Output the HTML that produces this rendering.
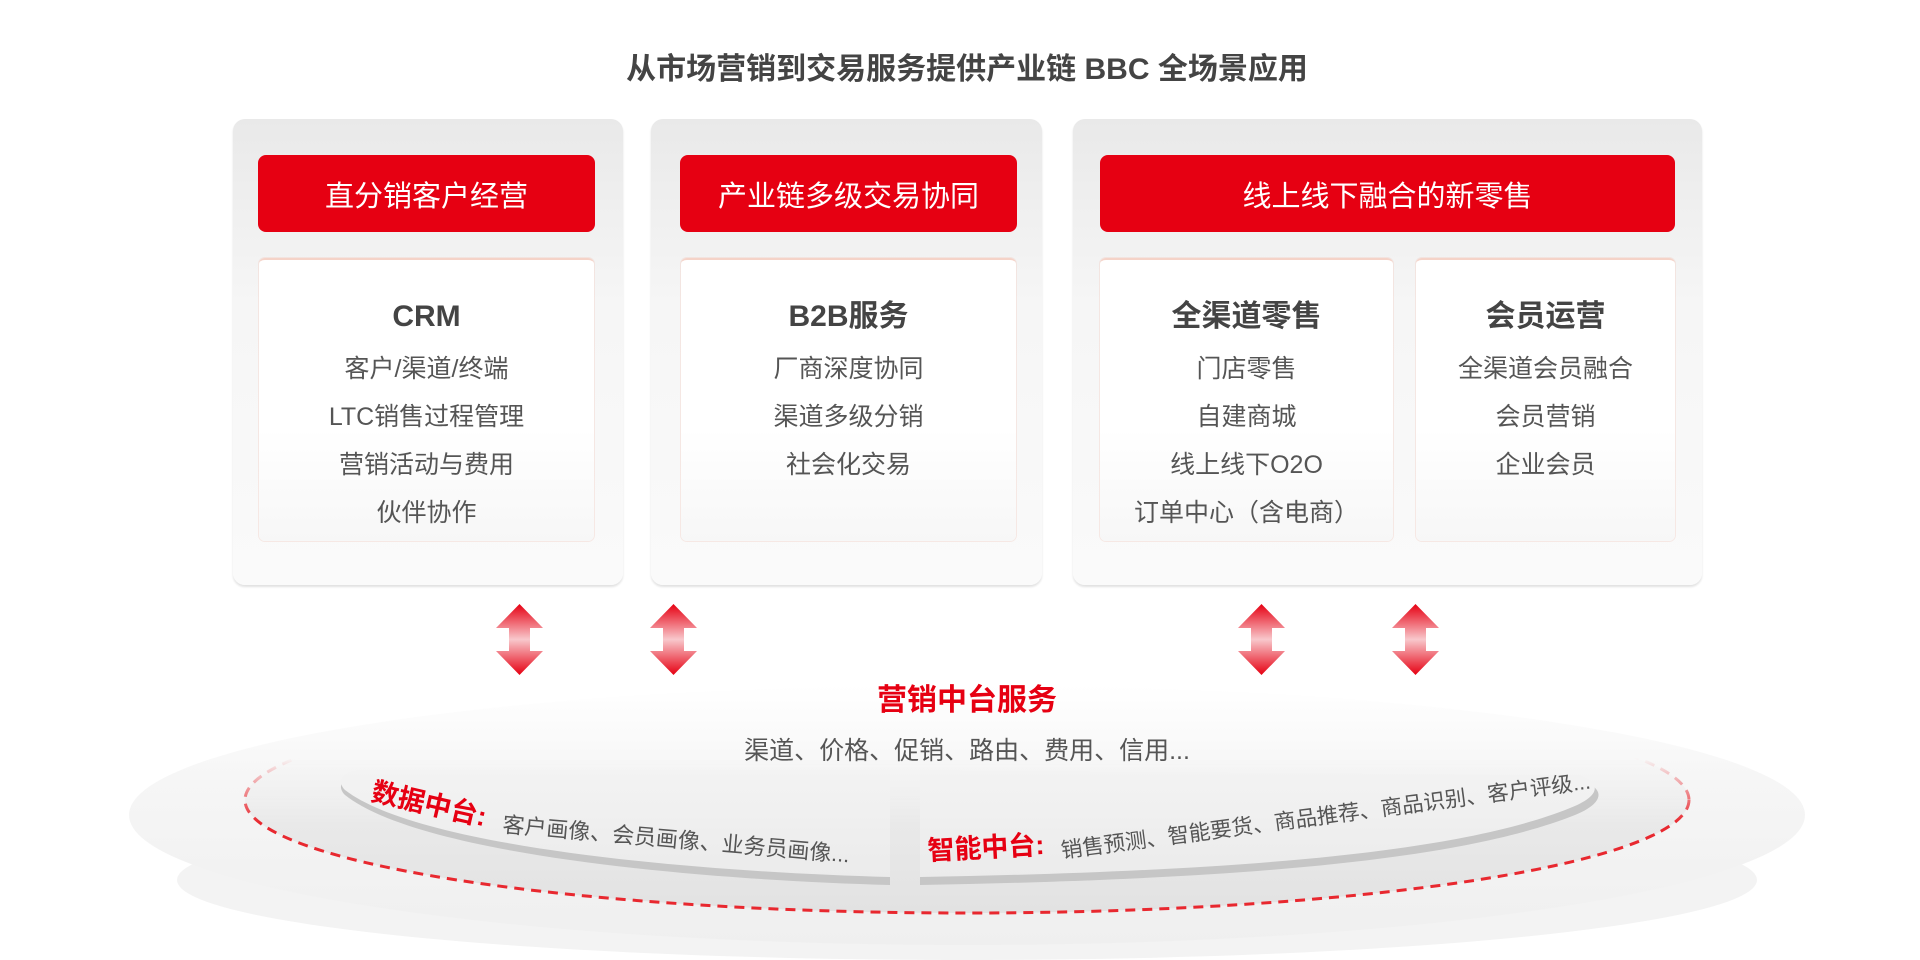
<!DOCTYPE html>
<html><head><meta charset="utf-8"><style>
html,body{margin:0;padding:0;background:#fff;}
body{width:1920px;height:960px;overflow:hidden;position:relative;font-family:"Liberation Sans","Noto Sans CJK SC",sans-serif;}
.t{position:absolute;white-space:nowrap;}
.panel{position:absolute;top:119px;height:466px;border-radius:12px;background:linear-gradient(#e9e9e9,#f6f6f6 40%,#fafafa);box-shadow:0 2px 2px rgba(0,0,0,.12);}
.red{position:absolute;top:155px;height:77px;border-radius:8px;background:#e60012;color:#fff;font-size:29px;display:flex;align-items:center;justify-content:center;}
.box{position:absolute;top:258px;height:281px;border-radius:6px;background:linear-gradient(#fff,#fff 60%,#f7f7f7);border-top:2px solid #f5d3c8;box-shadow:0 0 0 1px rgba(240,200,190,.35);text-align:center;color:#555;}
.box b{display:block;font-size:30px;line-height:36px;height:36px;color:#444;margin-top:39px;margin-bottom:10px;}
.box div{font-size:25px;line-height:48px;height:48px;}
</style></head><body>
<div class="t" style="left:0;width:1934px;text-align:center;top:44px;font-size:30px;font-weight:bold;color:#444;">从市场营销到交易服务提供产业链 BBC 全场景应用</div>

<div class="panel" style="left:233px;width:390px;"></div>
<div class="panel" style="left:651px;width:391px;"></div>
<div class="panel" style="left:1073px;width:629px;"></div>

<div class="red" style="left:258px;width:337px;">直分销客户经营</div>
<div class="red" style="left:680px;width:337px;">产业链多级交易协同</div>
<div class="red" style="left:1100px;width:575px;">线上线下融合的新零售</div>

<div class="box" style="left:259px;width:335px;"><b>CRM</b><div>客户/渠道/终端</div><div>LTC销售过程管理</div><div>营销活动与费用</div><div>伙伴协作</div></div>
<div class="box" style="left:681px;width:335px;"><b>B2B服务</b><div>厂商深度协同</div><div>渠道多级分销</div><div>社会化交易</div></div>
<div class="box" style="left:1100px;width:293px;"><b>全渠道零售</b><div>门店零售</div><div>自建商城</div><div>线上线下O2O</div><div>订单中心（含电商）</div></div>
<div class="box" style="left:1416px;width:259px;"><b>会员运营</b><div>全渠道会员融合</div><div>会员营销</div><div>企业会员</div></div>

<svg width="1920" height="960" style="position:absolute;left:0;top:0;pointer-events:none;">
<defs>
<linearGradient id="ag" x1="0" y1="0" x2="0" y2="1">
<stop offset="0" stop-color="#e60012"/><stop offset=".5" stop-color="#f8c8cc"/><stop offset="1" stop-color="#e60012"/></linearGradient>
<linearGradient id="eg" x1="0" y1="0" x2="0" y2="1"><stop offset="0" stop-color="#ffffff"/><stop offset=".35" stop-color="#f6f6f6"/><stop offset="1" stop-color="#efefef"/></linearGradient>
<linearGradient id="ig" x1="0" y1="0" x2="0" y2="1"><stop offset="0" stop-color="#f4f4f4"/><stop offset="1" stop-color="#e2e2e2"/></linearGradient>
<linearGradient id="pg" x1="0" y1="0" x2="0" y2="1"><stop offset="0" stop-color="#f3f3f3"/><stop offset="1" stop-color="#ebebeb"/></linearGradient>
<linearGradient id="mg" x1="0" y1="0" x2="0" y2="1"><stop offset="0" stop-color="#000"/><stop offset=".3" stop-color="#000"/><stop offset=".55" stop-color="#fff"/><stop offset="1" stop-color="#fff"/></linearGradient>
<mask id="mk" maskUnits="userSpaceOnUse" x="0" y="680" width="1920" height="260"><rect x="0" y="680" width="1920" height="260" fill="url(#mg)"/></mask>
<symbol id="arr" viewBox="0 0 47 71"><path d="M23.5 0 L47 24 L34 24 L34 47 L47 47 L23.5 71 L0 47 L13 47 L13 24 L0 24 Z" fill="url(#ag)"/></symbol>
</defs>
<use href="#arr" x="496" y="604" width="47" height="71"/>
<use href="#arr" x="650" y="604" width="47" height="71"/>
<use href="#arr" x="1238" y="604" width="47" height="71"/>
<use href="#arr" x="1392" y="604" width="47" height="71"/>

<ellipse cx="967" cy="880" rx="790" ry="80" fill="#f3f3f3"/>
<ellipse cx="967" cy="815" rx="838" ry="130" fill="url(#eg)"/>
<g mask="url(#mk)">
<ellipse cx="967" cy="800" rx="722" ry="113" fill="url(#ig)"/>
<ellipse cx="967" cy="800" rx="722" ry="113" fill="none" stroke="#e8282f" stroke-width="3" stroke-dasharray="10 7"/>
</g>
<path d="M360 775 L890 775 L890 885 C700 880 420 855 345 795 C335 785 345 775 360 775 Z" fill="#c6c6c6"/>
<path d="M360 770 L890 770 L890 877 C700 872 420 848 345 790 C335 780 345 770 360 770 Z" fill="url(#pg)"/>
<path d="M920 775 L1580 780 C1610 790 1600 805 1575 815 C1450 865 1200 880 920 885 Z" fill="#c6c6c6"/>
<path d="M920 770 L1580 775 C1605 785 1596 798 1570 808 C1450 857 1200 872 920 877 Z" fill="url(#pg)"/>
<text x="967" y="710" text-anchor="middle" font-size="30" font-weight="bold" fill="#e60012" font-family="Liberation Sans,Noto Sans CJK SC,sans-serif">营销中台服务</text>
<text x="967" y="759" text-anchor="middle" font-size="25" fill="#555" font-family="Liberation Sans,Noto Sans CJK SC,sans-serif">渠道、价格、促销、路由、费用、信用...</text>
<g font-family="Liberation Sans,Noto Sans CJK SC,sans-serif">
<text transform="translate(370,800) rotate(13)" font-size="27" font-weight="bold" fill="#e60012">数据中台:</text>
<text transform="translate(502,832) rotate(5)" font-size="22" fill="#555">客户画像、会员画像、业务员画像...</text>
<text transform="translate(928,860) rotate(-3)" font-size="27" font-weight="bold" fill="#e60012">智能中台:</text>
<text transform="translate(1062,858) rotate(-7.5)" font-size="21.5" fill="#555">销售预测、智能要货、商品推荐、商品识别、客户评级...</text>
</g>
</svg>
</body></html>
